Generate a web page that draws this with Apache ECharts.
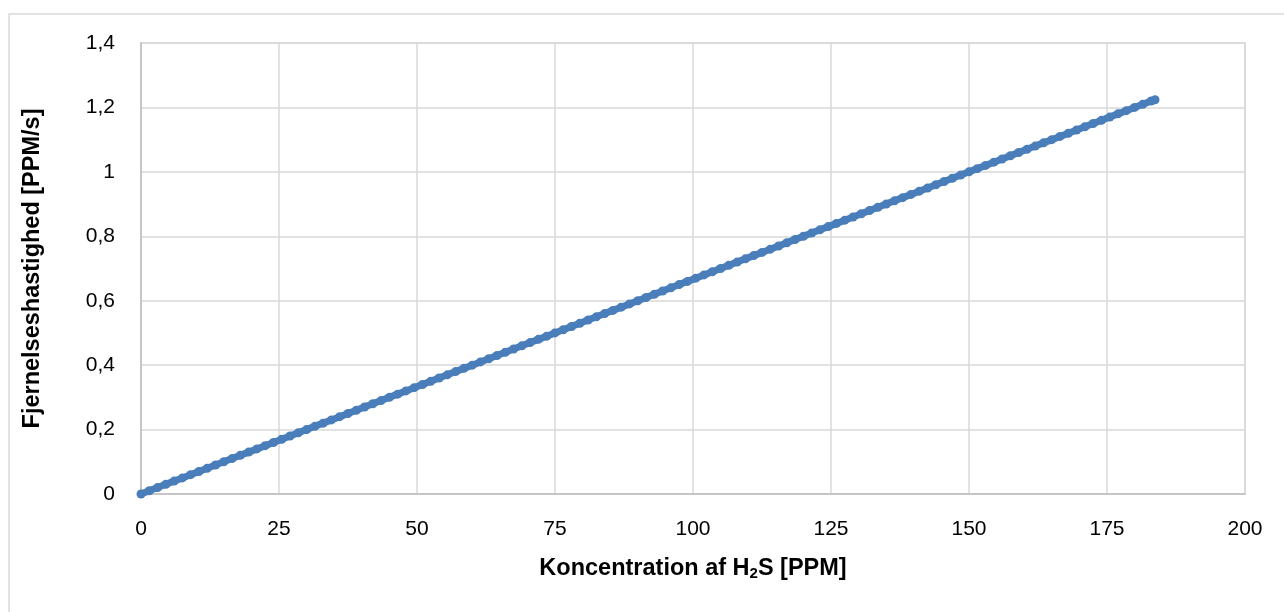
<!DOCTYPE html>
<html>
<head>
<meta charset="utf-8">
<script src="https://cdn.jsdelivr.net/npm/echarts@6/dist/echarts.min.js"></script>
<style>
  html, body { margin: 0; padding: 0; background: #fff; }
  #chart { width: 1284px; height: 612px; }
</style>
</head>
<body>
<div id="chart"></div>
<script>
// H2S concentration [PPM]
const koncentration = [
  0, 1.5, 3, 4.5, 6, 7.5, 9, 10.5, 12, 13.5, 15, 16.5, 18, 19.5, 21, 22.5, 24, 25.5, 27, 28.5,
  30, 31.5, 33, 34.5, 36, 37.5, 39, 40.5, 42, 43.5, 45, 46.5, 48, 49.5, 51, 52.5, 54, 55.5, 57, 58.5,
  60, 61.5, 63, 64.5, 66, 67.5, 69, 70.5, 72, 73.5, 75, 76.5, 78, 79.5, 81, 82.5, 84, 85.5, 87, 88.5,
  90, 91.5, 93, 94.5, 96, 97.5, 99, 100.5, 102, 103.5, 105, 106.5, 108, 109.5, 111, 112.5, 114, 115.5, 117, 118.5,
  120, 121.5, 123, 124.5, 126, 127.5, 129, 130.5, 132, 133.5, 135, 136.5, 138, 139.5, 141, 142.5, 144, 145.5, 147, 148.5,
  150, 151.5, 153, 154.5, 156, 157.5, 159, 160.5, 162, 163.5, 165, 166.5, 168, 169.5, 171, 172.5, 174, 175.5, 177, 178.5,
  180, 181.5, 183, 183.7
];
// removal rate [PPM/s]
const fjernelse = [
  0, 0.01, 0.02, 0.03, 0.04, 0.05, 0.06, 0.07, 0.08, 0.09, 0.10, 0.11, 0.12, 0.13, 0.14, 0.15, 0.16, 0.17, 0.18, 0.19,
  0.20, 0.21, 0.22, 0.23, 0.24, 0.25, 0.26, 0.27, 0.28, 0.29, 0.30, 0.31, 0.32, 0.33, 0.34, 0.35, 0.36, 0.37, 0.38, 0.39,
  0.40, 0.41, 0.42, 0.43, 0.44, 0.45, 0.46, 0.47, 0.48, 0.49, 0.50, 0.51, 0.52, 0.53, 0.54, 0.55, 0.56, 0.57, 0.58, 0.59,
  0.60, 0.61, 0.62, 0.63, 0.64, 0.65, 0.66, 0.67, 0.68, 0.69, 0.70, 0.71, 0.72, 0.73, 0.74, 0.75, 0.76, 0.77, 0.78, 0.79,
  0.80, 0.81, 0.82, 0.83, 0.84, 0.85, 0.86, 0.87, 0.88, 0.89, 0.90, 0.91, 0.92, 0.93, 0.94, 0.95, 0.96, 0.97, 0.98, 0.99,
  1.00, 1.01, 1.02, 1.03, 1.04, 1.05, 1.06, 1.07, 1.08, 1.09, 1.10, 1.11, 1.12, 1.13, 1.14, 1.15, 1.16, 1.17, 1.18, 1.19,
  1.20, 1.21, 1.22, 1.224
];

const punkter = koncentration.map((x, i) => [x, fjernelse[i]]);
const font = 'Liberation Sans';

const chart = echarts.init(document.getElementById('chart'));
chart.setOption({
  animation: false,
  graphic: [{
    type: 'rect',
    shape: { x: 9, y: 14, width: 1290, height: 620 },
    style: { fill: 'none', stroke: '#d9d9d9', lineWidth: 1.5 },
    silent: true
  }],
  grid: { left: 141, right: 39, top: 43, bottom: 118, show: true, borderColor: '#d9d9d9', borderWidth: 1.5 },
  xAxis: {
    type: 'value',
    min: 0, max: 200, interval: 25,
    name: '{b|Koncentration af H}{s|2}{b|S [PPM]}',
    nameLocation: 'middle',
    nameGap: 62,
    nameMoveOverlap: false,
    nameTextStyle: {
      rich: {
        b: { fontFamily: font, fontWeight: 'bold', fontSize: 23.5, color: '#000' },
        s: { fontFamily: font, fontWeight: 'bold', fontSize: 15, color: '#000', padding: [10, 0, 0, 0] }
      }
    },
    axisLine: { lineStyle: { color: '#bfbfbf', width: 1.5 } },
    axisTick: { show: false },
    axisLabel: { fontFamily: font, fontSize: 21, color: '#000', margin: 25 },
    splitLine: { lineStyle: { color: '#d9d9d9', width: 1.5 } }
  },
  yAxis: {
    type: 'value',
    min: 0, max: 1.4, interval: 0.2,
    name: 'Fjernelseshastighed [PPM/s]',
    nameLocation: 'middle',
    nameGap: 96,
    nameMoveOverlap: false,
    nameTextStyle: { fontFamily: font, fontWeight: 'bold', fontSize: 23.5, color: '#000' },
    axisLine: { show: true, lineStyle: { color: '#bfbfbf', width: 1.5 } },
    axisTick: { show: false },
    axisLabel: {
      fontFamily: font, fontSize: 21, color: '#000', margin: 26,
      formatter: v => String(Math.round(v * 10) / 10).replace('.', ',')
    },
    splitLine: { lineStyle: { color: '#d9d9d9', width: 1.5 } }
  },
  series: [{
    type: 'line',
    data: punkter,
    symbol: 'circle',
    symbolSize: 9,
    showAllSymbol: true,
    lineStyle: { color: '#4a7ebb', width: 7 },
    itemStyle: { color: '#4a7ebb' }
  }]
});
</script>
</body>
</html>
